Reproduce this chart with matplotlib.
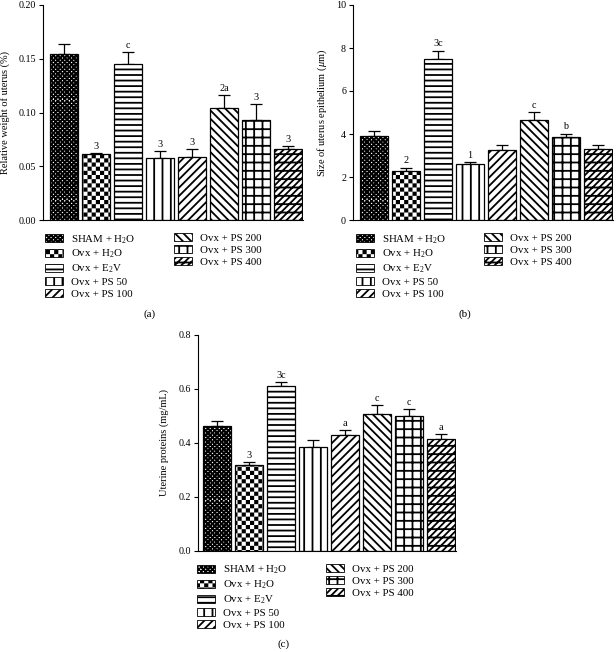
import matplotlib
matplotlib.use("Agg")
import matplotlib.pyplot as plt
import matplotlib.hatch as mhatch
from matplotlib.patches import Patch
from matplotlib.path import Path
import numpy as np

plt.rcParams["font.family"] = ["Liberation Serif", "DejaVu Serif"]
plt.rcParams["mathtext.fontset"] = "custom"
plt.rcParams["mathtext.rm"] = "Liberation Serif"
plt.rcParams["mathtext.it"] = "Liberation Serif:italic"
plt.rcParams["hatch.linewidth"] = 1.3

# -----------------------------
# Data
# -----------------------------
groups = [
    "SHAM + H$_2$O", "Ovx + H$_2$O", "Ovx + E$_2$V", "Ovx + PS 50",
    "Ovx + PS 100", "Ovx + PS 200", "Ovx + PS 300", "Ovx + PS 400",
]

weight_mean = [0.154, 0.061, 0.145, 0.058, 0.059, 0.104, 0.093, 0.066]
weight_err = [0.0095, 0.0015, 0.011, 0.006, 0.007, 0.012, 0.0145, 0.0025]
weight_marks = ["", "3", "c", "3", "3", "2a", "3", "3"]

epi_mean = [3.90, 2.28, 7.48, 2.59, 3.25, 4.64, 3.85, 3.28]
epi_err = [0.26, 0.16, 0.40, 0.11, 0.26, 0.38, 0.17, 0.23]
epi_marks = ["", "2", "3c", "1", "", "c", "b", ""]

prot_mean = [0.463, 0.320, 0.611, 0.385, 0.428, 0.509, 0.499, 0.414]
prot_err = [0.018, 0.008, 0.014, 0.025, 0.020, 0.032, 0.027, 0.018]
prot_marks = ["", "3", "3c", "", "a", "c", "c", "a"]

# 'O' is reused below as a checkerboard fill
hatches = ["O" * 11, "O" * 6, "---", "||", "////", "\\\\\\\\", "++", "/////--"]

DPI = 100
W, H = 616, 652


# -----------------------------
# Checkerboard hatch
# -----------------------------
class CheckerHatch(mhatch.HatchPatternBase):
    insets = {11: 0.0037, 6: 0.009}

    def __init__(self, hatch, density):
        n = hatch.count("O")
        self.cells = n * 4
        self.inset = self.insets.get(n, 0.0)
        self.num_vertices = (self.cells * self.cells // 2) * 5 if n else 0

    def set_vertices_and_codes(self, vertices, codes):
        c = self.cells
        s = 1.0 / c
        d = self.inset
        k = 0
        for i in range(c):
            for j in range(c):
                if (i + j) % 2:
                    continue
                x0, y0 = i * s + d, j * s + d
                x1, y1 = (i + 1) * s - d, (j + 1) * s - d
                vertices[k:k + 5] = [(x0, y0), (x1, y0), (x1, y1), (x0, y1), (x0, y0)]
                codes[k:k + 5] = [Path.MOVETO, Path.LINETO, Path.LINETO,
                                  Path.LINETO, Path.CLOSEPOLY]
                k += 5


mhatch._hatch_types[:] = [t for t in mhatch._hatch_types
                          if t is not mhatch.LargeCircles] + [CheckerHatch]

fig = plt.figure(figsize=(W / DPI, H / DPI), dpi=DPI)


def px_axes(left, top, right, bottom):
    return fig.add_axes([left / W, 1 - bottom / H, (right - left) / W, (bottom - top) / H])


def draw_panel(left, top, bottom, first_bar, means, errs, marks, ylim, yticks, fmt,
               ylabel, labelpad):
    pitch = 32.0
    right = first_bar + 7 * pitch + 28 + 1
    ax = px_axes(left, top, right, bottom)
    x = np.arange(len(means))
    bars = ax.bar(x, means, width=28 / pitch, color="white", edgecolor="black",
                  linewidth=0.9, zorder=2)
    for b, h in zip(bars, hatches):
        b.set_hatch(h)
    ax.errorbar(x, means, yerr=[np.zeros(len(errs)), errs], fmt="none",
                ecolor="black", elinewidth=0.9, capsize=4.6, capthick=0.9, zorder=1)
    for xi, m, e, t in zip(x, means, errs, marks):
        if t:
            ax.annotate(t, (xi, m + e), xytext=(0, 1.5), textcoords="offset points",
                        ha="center", va="bottom", fontsize=7.3)
    x_left = -((first_bar + 14) - left) / pitch
    ax.set_xlim(x_left, x_left + (right - left) / pitch)
    ax.set_ylim(*ylim)
    ax.set_yticks(yticks)
    ax.set_yticklabels([fmt.format(v) for v in yticks])
    ax.set_xticks([])
    ax.spines["top"].set_visible(False)
    ax.spines["right"].set_visible(False)
    for s in ("left", "bottom"):
        ax.spines[s].set_linewidth(0.8)
    ax.tick_params(axis="y", length=3, width=0.8, labelsize=7.2, pad=2)
    ax.set_ylabel(ylabel, fontsize=7.5, labelpad=labelpad)
    return ax


def add_legend(col_x, top_y, idx):
    handles = [Patch(facecolor="white", edgecolor="black", linewidth=0.6, hatch=hatches[i])
               for i in idx]
    fig.legend(handles, [groups[i] for i in idx], loc="upper left",
               bbox_to_anchor=(col_x / W, 1 - top_y / H), frameon=False,
               fontsize=7.8, handlelength=1.7, handleheight=0.75, handletextpad=0.7,
               labelspacing=0.2, borderpad=0, borderaxespad=0)


# (a)
draw_panel(43, 5, 220, 50, weight_mean, weight_err, weight_marks,
           (0, 0.20), [0, 0.05, 0.10, 0.15, 0.20], "{:.2f}",
           "Relative weight of uterus (%)", 6)
add_legend(45, 233, [0, 1, 2, 3, 4])
add_legend(174, 233, [5, 6, 7])
fig.text(150 / W, 1 - 314 / H, "(a)", ha="center", va="center", fontsize=8)

# (b)
draw_panel(353, 5, 220, 360, epi_mean, epi_err, epi_marks,
           (0, 10), [0, 2, 4, 6, 8, 10], "{:.0f}",
           "Size of uterus epithelium ($\\mu$m)", 5)
add_legend(356, 233, [0, 1, 2, 3, 4])
add_legend(484, 233, [5, 6, 7])
fig.text(465 / W, 1 - 314 / H, "(b)", ha="center", va="center", fontsize=8)

# (c)
draw_panel(198, 335, 551, 203, prot_mean, prot_err, prot_marks,
           (0, 0.8), [0, 0.2, 0.4, 0.6, 0.8], "{:.1f}",
           "Uterine proteins (mg/mL)", 7)
add_legend(197, 564, [0, 1, 2, 3, 4])
add_legend(326, 564, [5, 6, 7])
fig.text(284 / W, 1 - 644 / H, "(c)", ha="center", va="center", fontsize=8)

fig.savefig("out.png", dpi=DPI)
